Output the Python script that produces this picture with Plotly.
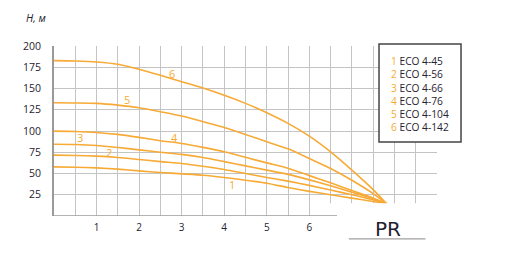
import plotly.graph_objects as go

# ---- data ----
flow = [0, 0.5, 1, 1.5, 2, 2.5, 3, 3.5, 4, 4.5, 5, 5.5, 6, 6.5, 7, 7.5, 7.81]
head_1 = [57.8, 57.4, 56.6, 55.1, 53.1, 51.2, 49.6, 48, 45.3, 42.1, 38.5, 33.5, 29, 25, 21, 17, 14.6]
head_2 = [71.6, 71.2, 70.4, 68.9, 66.5, 64, 61.8, 58.6, 54.7, 50, 45.3, 41, 36, 30.5, 25, 19, 14.6]
head_3 = [84.5, 84.2, 83, 80.6, 77.8, 75, 72.5, 68.9, 64, 59, 54, 49, 42.5, 35.5, 28, 20.5, 14.6]
head_4 = [99.9, 99.5, 98.3, 96, 92.5, 88.6, 85.3, 80.7, 75.5, 69, 62.5, 56.3, 47.5, 39, 30, 21, 14.6]
head_5 = [133.3, 133, 132.5, 130.5, 127.4, 122.6, 117.6, 111, 104.2, 96, 87.3, 79, 67.7, 55.9, 42.1, 26.4, 14.6]
head_6 = [182.8, 182.4, 181.2, 178.5, 172.6, 165.5, 158, 150.5, 142, 132.5, 121.5, 109, 94, 75.5, 54, 31, 14.6]
series = [head_1, head_2, head_3, head_4, head_5, head_6]
numbers = ["1", "2", "3", "4", "5", "6"]
models = ["ECO 4-45", "ECO 4-56", "ECO 4-66", "ECO 4-76", "ECO 4-104", "ECO 4-142"]
x_labels = ["1", "2", "3", "4", "5", "6"]
y_ticks = [25, 50, 75, 100, 125, 150, 175, 200]

ORANGE = "#f7aa35"
DARK = "#1f2230"
GRID = "#c4c4c4"
FONT = "Open Sans"

fig = go.Figure()
for ys in series:
    fig.add_trace(go.Scatter(x=flow, y=ys, mode="lines",
                             line=dict(color=ORANGE, width=1.6, shape="spline", smoothing=0.6),
                             hoverinfo="skip", showlegend=False))

# x tick values every 0.5 (grid), labels only on integers 1..6
xt = [i * 0.5 for i in range(1, 19)]
xtt = []
for v in xt:
    if v == int(v) and 1 <= v <= 6:
        xtt.append(x_labels[int(v) - 1])
    else:
        xtt.append("")

fig.update_xaxes(range=[0, 9], tickvals=xt, ticktext=xtt, showgrid=True,
                 gridcolor=GRID, gridwidth=1.3, zeroline=False, showline=False,
                 ticks="", tickfont=dict(family=FONT, size=10, color=DARK),
                 ticklabelstandoff=4)
fig.update_yaxes(range=[0, 200], tickvals=y_ticks, showgrid=True,
                 gridcolor=GRID, gridwidth=1.3, zeroline=False, showline=True,
                 linecolor="#9a9a9a", linewidth=1.6, ticks="",
                 tickfont=dict(family=FONT, size=10.5, color=DARK),
                 ticklabelstandoff=9)

shapes = []
# white logo area covering bottom-right
shapes.append(dict(type="rect", xref="x", yref="y", x0=6.42, x1=9.5, y0=-20, y1=15.0,
                   fillcolor="white", line=dict(width=0), layer="above"))
# bottom axis line
shapes.append(dict(type="line", xref="x", yref="y", x0=0, x1=6.65, y0=0, y1=0,
                   line=dict(color="#9a9a9a", width=1.6), layer="above"))
# legend box
shapes.append(dict(type="rect", xref="paper", yref="paper", x0=0.8486, x1=1.0627,
                   y0=0.435, y1=1.012, fillcolor="white",
                   line=dict(color="#444444", width=1.5), layer="above"))
# logo shadow line
shapes.append(dict(type="line", xref="paper", yref="paper", x0=0.77, x1=0.97,
                   y0=-0.135, y1=-0.135, line=dict(color="#a0a0a0", width=1.2),
                   layer="above"))

annotations = []
# curve labels
label_pos = [(4.18, 36.5), (1.29, 75.3), (0.61, 91.8), (2.84, 92.9), (1.72, 136.5), (2.77, 168.2)]
for n, (lx, ly) in zip(numbers, label_pos):
    annotations.append(dict(x=lx, y=ly, xref="x", yref="y", text=n, showarrow=False,
                            font=dict(family=FONT, size=11, color=ORANGE)))
# legend entries (single block, line height = 1.3 * font size)
leg_text = "<br>".join(f"<span style='color:{ORANGE}'>{n}</span> {m}"
                       for n, m in zip(numbers, models))
annotations.append(dict(x=(389 - 54) / 383, y=(216 - 93.5) / 170, xref="paper", yref="paper",
                        xanchor="left", yanchor="middle", align="left", showarrow=False,
                        text=leg_text,
                        font=dict(family=FONT, size=10.2, color=DARK)))
# axis title
annotations.append(dict(x=(36 - 54) / 383, y=(216 - 18) / 170, xref="paper", yref="paper",
                        xanchor="center", yanchor="middle",
                        text="<i>H, м</i>", showarrow=False,
                        font=dict(family=FONT, size=10.5, color=DARK)))
# logo
annotations.append(dict(x=(388 - 54) / 383, y=(216 - 229) / 170, xref="paper", yref="paper",
                        xanchor="center", yanchor="middle",
                        text="PR", showarrow=False,
                        font=dict(family="DejaVu Sans", size=20, color=DARK)))

fig.update_layout(width=525, height=257, margin=dict(l=54, r=88, t=46, b=41),
                  paper_bgcolor="white", plot_bgcolor="white",
                  shapes=shapes, annotations=annotations, showlegend=False)

fig.write_html("out.html")
